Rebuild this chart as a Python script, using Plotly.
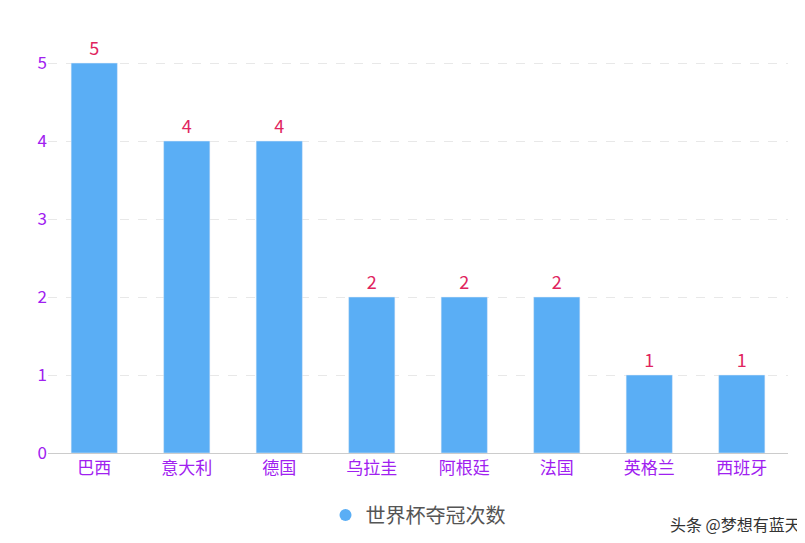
import plotly.graph_objects as go

teams = ["巴西", "意大利", "德国", "乌拉圭", "阿根廷", "法国", "英格兰", "西班牙"]
titles = [5, 4, 4, 2, 2, 2, 1, 1]
y_ticks = [0, 1, 2, 3, 4, 5]
series_name = "世界杯夺冠次数"

font = "Noto Sans CJK SC"
fig = go.Figure()
fig.add_trace(go.Bar(
    x=teams, y=titles, name=series_name, width=0.5,
    marker_color="#5aaef5", showlegend=False,
    text=titles, textposition="outside",
    textfont=dict(color="#e0245e", size=18, family=font),
    cliponaxis=False,
))
# legend entry with a round marker
fig.add_trace(go.Scatter(
    x=[teams[0]], y=[None], mode="markers", name=series_name,
    marker=dict(symbol="circle", size=12, color="#5aaef5"),
))
fig.update_layout(
    width=805, height=543,
    margin=dict(l=40, r=25, t=20, b=98, autoexpand=False),
    plot_bgcolor="white", paper_bgcolor="white",
    showlegend=True,
    legend=dict(orientation="h", x=0.5, xanchor="center", y=-0.1, yanchor="top",
                font=dict(size=20, color="#555", family=font), itemwidth=30),
    xaxis=dict(tickfont=dict(color="#a020f0", size=17, family=font),
               showline=True, linecolor="#ccc", ticks="", automargin=False),
    yaxis=dict(range=[0, 5.45], tickvals=y_ticks, showgrid=True,
               gridcolor="#e8e8e8", griddash="dash", zeroline=False, automargin=False,
               tickfont=dict(color="#a020f0", size=17, family=font)),
    bargap=0.5,
)
fig.add_annotation(text="头条 @梦想有蓝天", xref="paper", yref="paper", x=1.02, y=-0.2,
                   xanchor="right", yanchor="bottom", showarrow=False,
                   font=dict(size=16, color="#333", family=font))
fig.write_html("out.html")
